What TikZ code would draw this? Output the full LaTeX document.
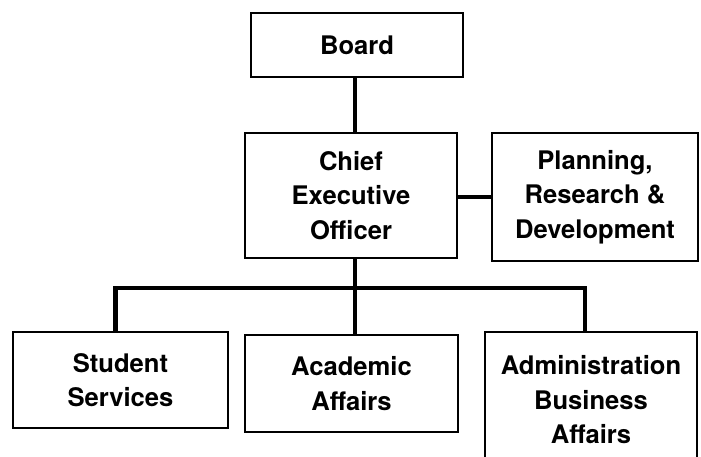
\documentclass[tikz,border=0pt]{standalone}
\usepackage{fontspec}
\setmainfont{TeX Gyre Heros}
\usepackage{tikz}

\tikzset{
	unit/.style={draw, line width=1.5pt, align=center, inner sep=0pt,
		font=\fontsize{18.2}{24.5}\selectfont\bfseries},
	link/.style={line width=3.5pt}
}

\begin{document}
\begin{tikzpicture}[x=0.025cm, y=-0.025cm]
			\useasboundingbox (0,0) rectangle (701,456);
			\clip (0,0) rectangle (701,456);
			\node[unit, minimum width=5.3cm, minimum height=1.6cm] (B) at (357,45) {Board};
			\node[unit, minimum width=5.3cm, minimum height=3.125cm] (C) at (351,195.5) {Chief\\Executive\\Officer};
			\node[unit, minimum width=5.15cm, minimum height=3.2cm] (P) at (595,197) {Planning,\\Research \&\\Development};
			\node[unit, minimum width=5.375cm, minimum height=2.4cm] (S) at (120.5,380) {Student\\Services};
			\node[unit, minimum width=5.325cm, minimum height=2.425cm] (A) at (351.5,383.5) {Academic\\Affairs};
			\node[unit, minimum width=5.3cm, minimum height=3.4cm] (F) at (591,400) {Administration\\Business\\Affairs};
			\coordinate (bus) at (355,288);
			\draw[link] (B.south -| bus) -- (C.north -| bus);
			\draw[link] (P.west -| C.east) -- (P.west);
			\draw[link] (C.south -| bus) -- (A.north -| bus);
			\draw[link] (S.north) ++(-5,0) |- (bus) -| ([xshift=-6*0.025cm]F.north);
			\end{tikzpicture}
\end{document}
